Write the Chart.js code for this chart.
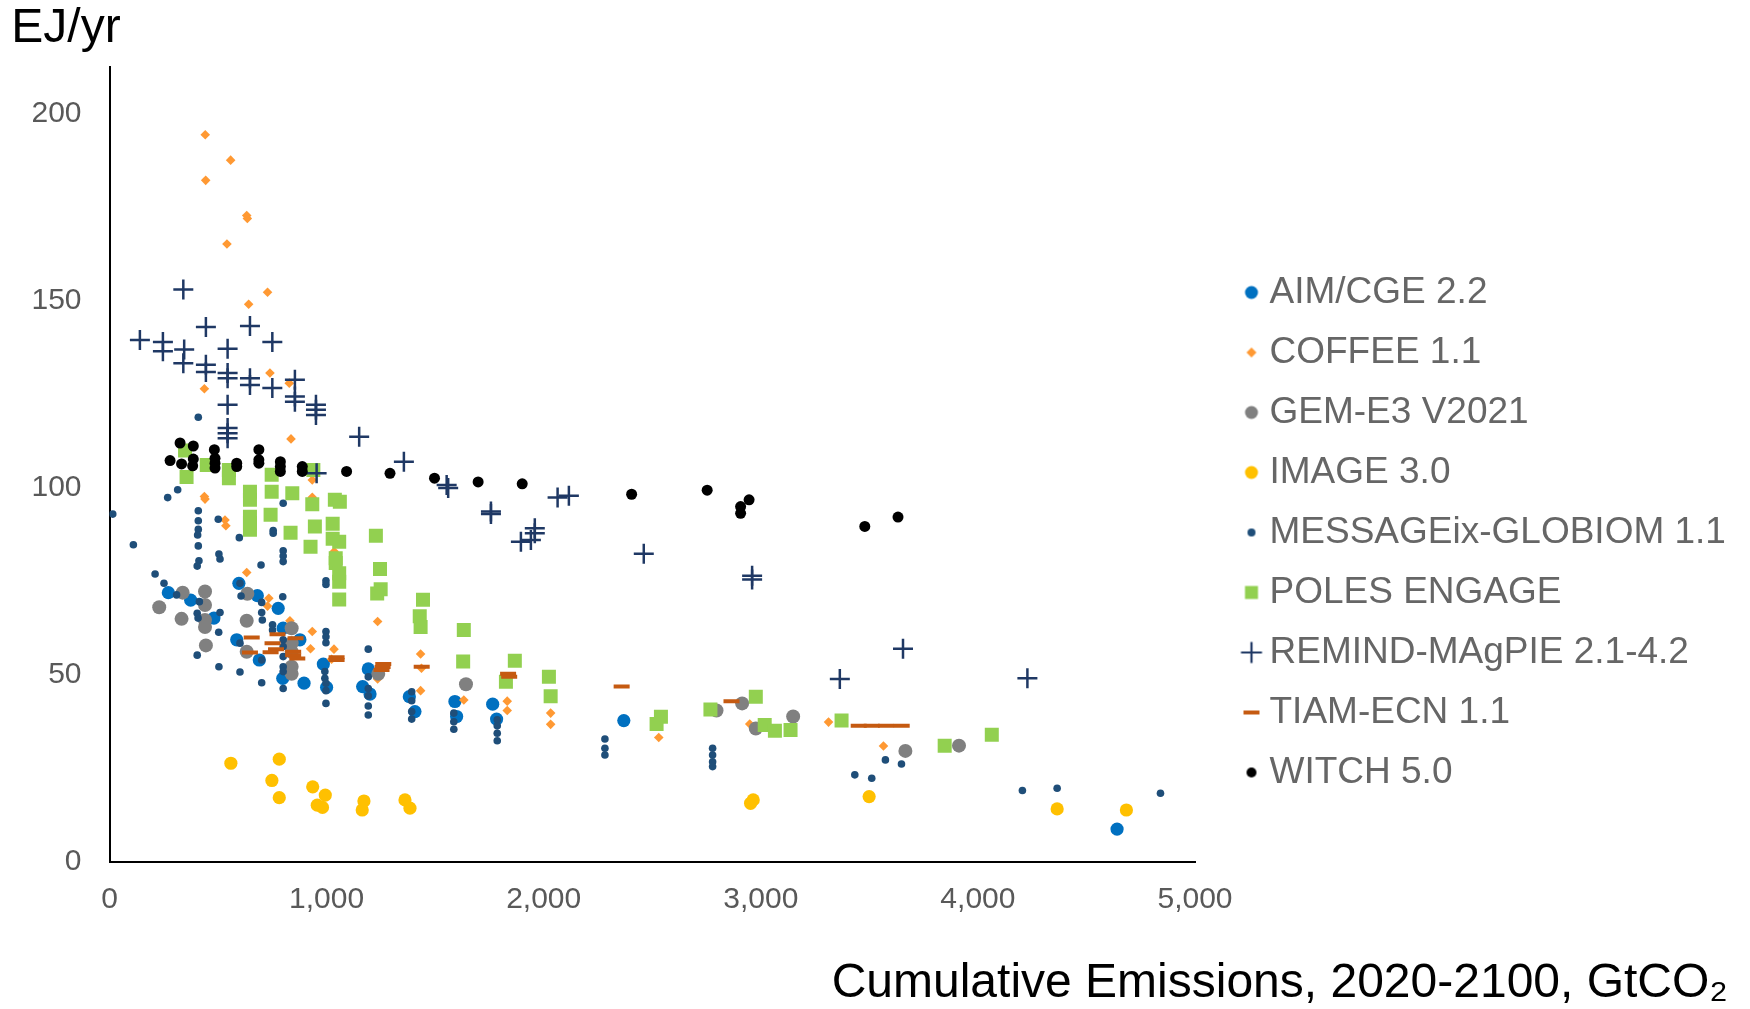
<!DOCTYPE html>
<html>
<head>
<meta charset="utf-8">
<script src="https://cdn.jsdelivr.net/npm/chart.js@4.4.1/dist/chart.umd.min.js"></script>
<style>
  html, body { margin: 0; padding: 0; background: #ffffff; }
  #wrap { width: 1750px; height: 1009px; }
</style>
</head>
<body>
<div id="wrap"><canvas id="c" width="1750" height="1009"></canvas></div>
<script>
// ---------- data (x = cumulative emissions GtCO2, y = EJ/yr) ----------
const seriesNames = ['AIM/CGE 2.2', 'COFFEE 1.1', 'GEM-E3 V2021', 'IMAGE 3.0', 'MESSAGEix-GLOBIOM 1.1',
  'POLES ENGAGE', 'REMIND-MAgPIE 2.1-4.2', 'TIAM-ECN 1.1', 'WITCH 5.0'];

const xTicks = [0, 1000, 2000, 3000, 4000, 5000];
const yTicks = [0, 50, 100, 150, 200];

const aimCge = [[271,72],[374,70],[481,65.2],[596,74.5],[681,71.2],[777,67.8],[586,59.4],[690,54],[800,62.5],
  [877,59.4],[798,49.1],[896,47.8],[985,52.9],[1000,46.7],[1192,51.6],[1166,46.9],[1200,44.9],[1381,44.2],
  [1407,40.2],[1591,42.9],[1599,38.9],[1765,42.2],[1783,38.2],[2369,37.8],[4641,8.8]];

const coffee = [[441,194.4],[558,187.6],[443,182.2],[632,172.8],[635,172],[541,165.2],[728,152.3],[641,149.1],
  [739,130.7],[828,128],[437,126.5],[836,113.1],[437,97.7],[440,97],[934,102.1],[934,97.5],[532,91.4],[536,89.9],
  [1035,83],[632,77.4],[734,70.5],[728,68.4],[831,64.5],[1235,64.3],[934,61.6],[926,57],[1034,56.9],[1023,54.2],
  [1235,48.9],[1433,55.6],[1437,51.8],[1433,45.8],[1632,43.3],[1832,43],[1832,40.5],[2032,39.8],[2032,36.8],
  [2530,33.3],[2949,36.9],[3312,37.4],[3565,31]];

const gemE3 = [[229,68.1],[337,72],[440,72.3],[332,65],[440,68.7],[440,64.7],[440,62.8],[444,57.9],[635,71.7],
  [632,64.5],[632,56.2],[839,62.5],[839,58.5],[839,56.2],[839,52.2],[839,50.3],[1238,50.3],[1642,47.5],
  [2796,40.5],[2914,42.4],[2977,35.7],[3149,38.9],[3666,29.7],[3913,31.1]];

const image30 = [[559,26.4],[782,27.5],[748,21.8],[782,17.2],[936,20.1],[994,17.9],[957,15.2],[981,14.6],
  [1172,16.3],[1164,13.9],[1361,16.6],[1384,14.4],[2965,16.6],[2953,15.7],[3499,17.5],[4365,14.2],[4684,13.9]];

const messageix = [[15,93],[110,84.8],[409,118.9],[314,99.5],[268,97.4],[409,93.9],[409,91.2],[409,88.9],
  [406,87.4],[409,84.5],[412,80.5],[404,79.1],[501,91.6],[598,86.7],[504,82.3],[509,81],[800,95.9],[754,88.6],
  [754,87.9],[698,79.4],[800,83.2],[800,81.8],[800,80.3],[997,75.2],[997,74.2],
  [210,77],[251,74.5],[309,71.4],[414,69.6],[404,66.5],[408,65.2],[509,66.7],[503,61.4],[404,55.3],[504,52.2],
  [601,50.8],[701,47.9],[601,74.5],[606,71.1],[701,69.4],[701,66.7],[704,64.7],[798,70.9],[751,63.4],[751,62],
  [601,58.5],[701,54],[800,59.4],[800,57.6],[800,54.9],[800,52.2],[800,50.9],[800,46.4],[997,61.6],[997,60.2],
  [997,58.6],[992,50.9],[992,49.1],[997,47.8],[997,45.8],[997,42.4],[1192,56.9],[1192,49.5],[1192,46.4],
  [1192,44.4],[1192,41.7],[1192,39.3],[1392,45.5],[1392,43.1],[1392,40.2],[1392,38.2],[1586,39.8],[1586,37.5],
  [1586,35.5],[1786,38],[1786,36.4],[1786,34.4],[1786,32.4],[2282,32.9],[2282,30.4],[2282,28.6],[2778,30.4],
  [2778,28.6],[2778,26.8],[2778,25.5],[3433,23.3],[3511,22.4],[3574,27.3],[3648,26.2],[4205,19.1],[4365,19.7],
  [4841,18.4]];

const poles = [[348,110],[355,102.9],[448,106.1],[550,104.8],[550,102.6],[647,99],[647,96.8],[647,92.3],
  [647,90.6],[647,88.8],[747,103.5],[747,99],[742,92.8],[842,98.6],[834,88],[934,95.6],[939,104.8],[946,89.7],
  [926,84.3],[1038,96.8],[1061,96.3],[1028,90.4],[1028,86.4],[1058,85.6],[1042,81.2],[1042,79.9],[1058,77.2],
  [1058,74.9],[1058,70.2],[1227,87.2],[1246,78.3],[1249,72.9],[1233,71.8],[1444,70.1],[1429,65.7],[1433,62.8],
  [1632,62],[1629,53.6],[1867,53.8],[1826,48.2],[2024,49.5],[2032,44.3],[2540,38.8],[2520,36.9],[2768,40.8],
  [2977,44.2],[3018,36.6],[3065,35.1],[3137,35.3],[3372,37.8],[3847,31.1],[4064,34]];

const remind = [[140,139.5],[246,139],[246,136.5],[340,153],[344,137],[340,133.3],[444,143],[444,132.9],
  [444,131],[544,137.2],[544,130.7],[544,129.3],[544,122.2],[544,116],[544,114.6],[544,113.3],[647,143.3],
  [647,129.3],[647,127.5],[750,139],[750,126.7],[854,128.9],[854,124.4],[854,123],[951,122.2],[951,120.9],
  [951,119.5],[954,103.9],[1150,113.7],[1356,107],[1553,100.8],[1560,100],[1757,93.7],[1757,93],[1895,85.6],
  [1941,86.1],[1959,89.2],[1959,87.9],[2064,97.4],[2116,97.9],[2461,82.4],[2960,76.5],[2960,75.5],[3364,48.9],
  [3655,57],[4228,49.1]];

const tiamEcn = [[655,60],[774,60.9],[857,59.8],[751,58.5],[767,56.9],[742,56.1],[647,56],[846,56.2],[846,55.3],
  [865,54.4],[1046,54.7],[1046,54],[1261,52.9],[1258,52.1],[1253,51.3],[1438,52.2],[1836,50.3],[1841,49.5],
  [2359,46.9],[2865,43],[3451,36.4],[3511,36.4],[3577,36.4],[3649,36.4]];

const witch = [[279,107.3],[325,112],[332,106.4],[386,111.2],[386,107.7],[383,105.9],[483,110.2],[486,107.9],
  [486,106.6],[486,105.3],[586,106.6],[586,105.7],[688,110.2],[688,107.5],[688,106.6],[787,107],[787,105.7],
  [787,104.4],[888,105.7],[888,104.4],[1092,104.4],[1292,103.9],[1497,102.6],[1698,101.6],[1901,101.1],
  [2405,98.3],[2753,99.4],[2907,95],[2907,93.2],[2946,96.8],[3479,89.7],[3632,92.2]];

// ---------- styles ----------
const FONT = "'Liberation Sans', Arial, Helvetica, sans-serif";
const seriesData = [aimCge, coffee, gemE3, image30, messageix, poles, remind, tiamEcn, witch];
const styles = [
  {color:'#0070C0', ps:'circle',  r:6.6, bw:0,   legend:['circle',13]},
  {color:'#FF9933', ps:'rectRot', r:4.8, bw:0,   legend:['diamond',10]},
  {color:'#808080', ps:'circle',  r:7,   bw:0,   legend:['circle',13]},
  {color:'#FFC000', ps:'circle',  r:6.6, bw:0,   legend:['circle',13]},
  {color:'#1F4E79', ps:'circle',  r:3.8, bw:0,   legend:['circle',8]},
  {color:'#92D050', ps:'rect',    r:9.9, bw:0,   legend:['square',13]},
  {color:'#1F3864', ps:'cross',   r:10,  bw:2.5, legend:['cross',21]},
  {color:'#C55A11', ps:'line',    r:8,   bw:4,   legend:['dash',16]},
  {color:'#000000', ps:'circle',  r:5.5, bw:0,   legend:['circle',10]}
];

function legendMarker(kind, color, size) {
  const c = document.createElement('canvas');
  c.width = 68; c.height = 28;
  const g = c.getContext('2d');
  const cx = 51, cy = 14, h = size / 2;
  g.fillStyle = color; g.strokeStyle = color;
  if (kind === 'circle') { g.beginPath(); g.arc(cx, cy, h, 0, Math.PI * 2); g.fill(); }
  else if (kind === 'diamond') { g.beginPath(); g.moveTo(cx, cy - h); g.lineTo(cx + h, cy); g.lineTo(cx, cy + h); g.lineTo(cx - h, cy); g.closePath(); g.fill(); }
  else if (kind === 'square') { g.fillRect(cx - h, cy - h, size, size); }
  else if (kind === 'cross') { g.lineWidth = 2.2; g.beginPath(); g.moveTo(cx - h, cy); g.lineTo(cx + h, cy); g.moveTo(cx, cy - h); g.lineTo(cx, cy + h); g.stroke(); }
  else if (kind === 'dash') { g.lineWidth = 4; g.beginPath(); g.moveTo(cx - h, cy); g.lineTo(cx + h, cy); g.stroke(); }
  return c;
}
const legendImgs = styles.map(s => legendMarker(s.legend[0], s.color, s.legend[1]));

const datasets = seriesNames.map((name, i) => ({
  label: name,
  data: seriesData[i].map(p => ({x: p[0], y: p[1]})),
  pointStyle: styles[i].ps,
  pointRadius: styles[i].r,
  pointHoverRadius: styles[i].r,
  backgroundColor: styles[i].color,
  borderColor: styles[i].color,
  pointBorderWidth: styles[i].bw,
  borderWidth: styles[i].bw,
  showLine: false,
  order: seriesNames.length - i   // later series drawn on top (as in the original)
}));

new Chart(document.getElementById('c'), {
  type: 'scatter',
  data: { datasets },
  options: {
    responsive: false,
    animation: false,
    events: [],
    layout: { padding: { left: 11.3, right: 22, top: 0, bottom: 0 } },
    plugins: {
      tooltip: { enabled: false },
      title: {
        display: true, text: 'EJ/yr', align: 'start', color: '#000000',
        font: { family: FONT, size: 48, weight: 'normal', lineHeight: 1.2 },
        padding: { top: 0, bottom: 9.4 }
      },
      subtitle: {
        display: true, text: 'Cumulative Emissions, 2020-2100, GtCO\u2082', align: 'end', position: 'bottom',
        color: '#000000',
        font: { family: FONT, size: 48, weight: 'normal', lineHeight: 1.06 },
        padding: { top: 0, bottom: 0 }
      },
      legend: {
        position: 'right',
        align: 'center',
        maxWidth: 533,
        title: { display: true, text: ' ', font: { size: 10, lineHeight: 1.2 }, padding: 22 },
        labels: {
          usePointStyle: true,
          boxWidth: 33,
          boxHeight: 12,
          padding: 23,
          color: '#595959',
          font: { family: FONT, size: 37 },
          generateLabels: () => seriesNames.map((name, i) => ({
            text: name,
            pointStyle: legendImgs[i],
            fillStyle: styles[i].color,
            strokeStyle: styles[i].color,
            lineWidth: 0,
            hidden: false,
            datasetIndex: i
          }))
        }
      }
    },
    scales: {
      x: {
        type: 'linear', min: xTicks[0], max: xTicks[xTicks.length - 1],
        grid: { display: false, drawTicks: false },
        border: { display: true, color: '#000000', width: 2 },
        ticks: { stepSize: 1000, padding: 20, color: '#595959', font: { family: FONT, size: 30 }, maxRotation: 0 },
        afterBuildTicks: s => { s.ticks = xTicks.map(v => ({ value: v })); },
        afterFit: s => { s.height = 96.1; }
      },
      y: {
        type: 'linear', min: 0, max: 212.5,
        grid: { display: false, drawTicks: false },
        border: { display: true, color: '#000000', width: 2 },
        ticks: { stepSize: 50, padding: 28, color: '#595959', font: { family: FONT, size: 30 } },
        afterBuildTicks: s => { s.ticks = yTicks.map(v => ({ value: v })); },
        afterFit: s => { s.width = 98.2; }
      }
    }
  }
});
</script>
</body>
</html>
